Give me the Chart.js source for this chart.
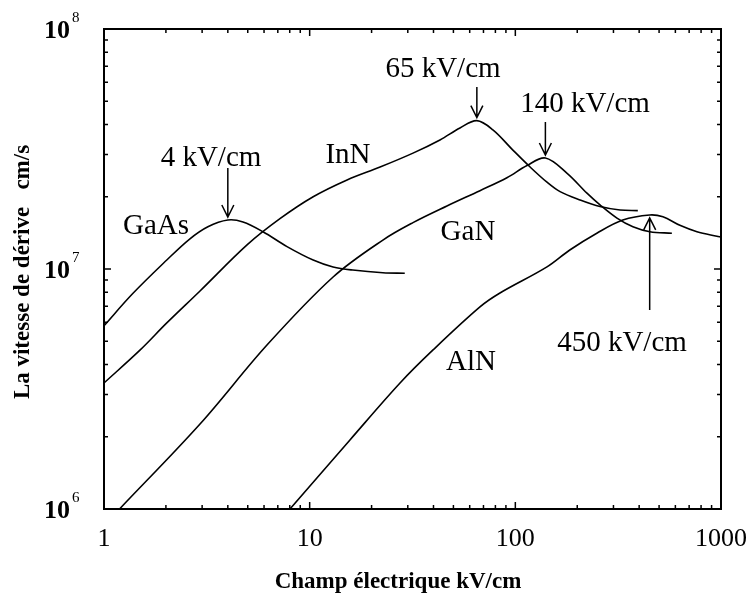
<!DOCTYPE html>
<html>
<head>
<meta charset="utf-8">
<script src="https://cdn.jsdelivr.net/npm/chart.js@4.4.0/dist/chart.umd.min.js"></script>
<style>
  body { margin: 0; background: #fff; }
  canvas { display: block; }
</style>
</head>
<body>
<canvas id="velocityChart" width="752" height="600"></canvas>
<script>
// steady-state drift velocity (cm/s) against electric field (kV/cm)
const gaasField = [1, 1.38, 2.02, 2.6, 3.2, 4, 4.74, 5.93, 7.76, 10.4, 13, 16.2, 22.7, 29];
const gaasVelocity = [5.8e6, 7.9e6, 1.09e7, 1.33e7, 1.5e7, 1.6e7, 1.57e7, 1.43e7, 1.24e7, 1.09e7, 1.02e7, 9.9e6, 9.65e6, 9.6e6];

const innField = [1, 1.5, 2.02, 2.93, 4.96, 7.17, 10.4, 15.2, 22, 31.8, 43, 53.8, 65, 77.8, 97.3, 118, 142.5, 165, 206, 258, 323, 394];
const innVelocity = [3.35e6, 4.6e6, 5.96e6, 8.1e6, 1.26e7, 1.62e7, 2.0e7, 2.35e7, 2.66e7, 3.04e7, 3.45e7, 3.87e7, 4.15e7, 3.8e7, 3.13e7, 2.66e7, 2.3e7, 2.1e7, 1.94e7, 1.82e7, 1.76e7, 1.75e7];

const ganField = [1.19, 2.93, 6.2, 13, 22.7, 31.8, 46.5, 67.3, 91, 114, 140, 178, 223, 258, 312, 373, 451, 577];
const ganVelocity = [1.0e6, 2.26e6, 4.82e6, 9.26e6, 1.32e7, 1.56e7, 1.83e7, 2.12e7, 2.4e7, 2.7e7, 2.9e7, 2.51e7, 2.07e7, 1.85e7, 1.63e7, 1.5e7, 1.43e7, 1.41e7];

const alnField = [8.02, 15.7, 27.5, 39.8, 67.3, 84.2, 142.5, 184, 249, 333, 450, 522, 631, 764, 955, 1000];
const alnVelocity = [1.0e6, 1.94e6, 3.35e6, 4.6e6, 6.95e6, 7.94e6, 1.02e7, 1.2e7, 1.41e7, 1.6e7, 1.68e7, 1.65e7, 1.52e7, 1.43e7, 1.37e7, 1.36e7];

const materials = ['GaAs', 'InN', 'GaN', 'AlN'];
const peakLabels = ['4 kV/cm', '65 kV/cm', '140 kV/cm', '450 kV/cm'];

const xTickValues = [1, 10, 100, 1000];
const xTickLabels = ['1', '10', '100', '1000'];
const yTickExponents = [6, 7, 8];

const fields = [gaasField, innField, ganField, alnField];
const velocities = [gaasVelocity, innVelocity, ganVelocity, alnVelocity];

// label placement (px)
const nameSpots = [[156, 226], [348, 155], [468, 232], [471, 362]];
const peakTextSpots = [[211, 158], [443, 69], [585, 104], [622, 343]];
const arrowTails = [168, 87, 122, 310];

const serif = '"Liberation Serif", "DejaVu Serif", serif';

function toPoints(xs, ys) {
  return xs.map((x, i) => ({ x: x, y: ys[i] }));
}

function drawArrow(ctx, x, y0, y1) {
  const dir = y1 > y0 ? 1 : -1;
  ctx.beginPath();
  ctx.moveTo(x, y0);
  ctx.lineTo(x, y1);
  ctx.moveTo(x - 6, y1 - dir * 12);
  ctx.lineTo(x, y1);
  ctx.lineTo(x + 6, y1 - dir * 12);
  ctx.stroke();
}

const framePlugin = {
  id: 'frame',
  beforeDraw(chart) {
    const ctx = chart.ctx;
    ctx.save();
    ctx.fillStyle = '#fff';
    ctx.fillRect(0, 0, chart.width, chart.height);
    ctx.restore();
  },
  afterDraw(chart) {
    const ctx = chart.ctx;
    const area = chart.chartArea;
    const xs = chart.scales.x;
    const ys = chart.scales.y;
    ctx.save();
    ctx.strokeStyle = '#000';
    ctx.fillStyle = '#000';

    // box
    ctx.lineWidth = 2;
    ctx.strokeRect(area.left, area.top, area.right - area.left, area.bottom - area.top);

    // inward ticks on all four sides
    ctx.lineWidth = 1.5;
    ctx.beginPath();
    for (let d = 0; d < xTickValues.length - 1; d++) {
      for (let m = 1; m <= 9; m++) {
        const px = xs.getPixelForValue(xTickValues[d] * m);
        const len = m === 1 ? 7 : 4;
        ctx.moveTo(px, area.bottom);
        ctx.lineTo(px, area.bottom - len);
        ctx.moveTo(px, area.top);
        ctx.lineTo(px, area.top + len);
      }
    }
    for (let d = 0; d < yTickExponents.length - 1; d++) {
      for (let m = 1; m <= 9; m++) {
        const py = ys.getPixelForValue(m * Math.pow(10, yTickExponents[d]));
        const len = m === 1 ? 7 : 4;
        ctx.moveTo(area.left, py);
        ctx.lineTo(area.left + len, py);
        ctx.moveTo(area.right, py);
        ctx.lineTo(area.right - len, py);
      }
    }
    ctx.stroke();

    // x tick labels
    ctx.font = '26px ' + serif;
    ctx.textAlign = 'center';
    ctx.textBaseline = 'middle';
    xTickValues.forEach((v, i) => {
      ctx.fillText(xTickLabels[i], xs.getPixelForValue(v), area.bottom + 30);
    });

    // y tick labels as powers of ten
    yTickExponents.forEach(e => {
      const py = ys.getPixelForValue(Math.pow(10, e));
      ctx.font = 'bold 26px ' + serif;
      ctx.textAlign = 'right';
      ctx.fillText('10', 70, py + 2);
      ctx.font = '15px ' + serif;
      ctx.textAlign = 'left';
      ctx.fillText(String(e), 72, py - 11);
    });

    // axis titles
    ctx.font = 'bold 23px ' + serif;
    ctx.textAlign = 'center';
    ctx.fillText('Champ électrique kV/cm', 398, 582);
    ctx.save();
    ctx.translate(23, 272);
    ctx.rotate(-Math.PI / 2);
    ctx.fillText('La vitesse de dérive   cm/s', 0, 0);
    ctx.restore();

    // curve names and peak markers
    ctx.font = '29px ' + serif;
    materials.forEach((name, i) => {
      ctx.fillText(name, nameSpots[i][0], nameSpots[i][1]);
    });
    ctx.lineWidth = 1.5;
    velocities.forEach((vel, i) => {
      const k = vel.indexOf(Math.max(...vel));
      const px = xs.getPixelForValue(fields[i][k]);
      const peakY = ys.getPixelForValue(vel[k]);
      const tail = arrowTails[i];
      const tip = tail < peakY ? peakY - 3 : peakY + 3;
      drawArrow(ctx, px, tail, tip);
      ctx.fillText(peakLabels[i], peakTextSpots[i][0], peakTextSpots[i][1]);
    });
    ctx.restore();
  }
};

new Chart(document.getElementById('velocityChart'), {
  type: 'scatter',
  data: {
    datasets: materials.map((name, i) => ({
      label: name,
      data: toPoints(fields[i], velocities[i]),
      showLine: true,
      borderColor: '#000',
      borderWidth: 1.6,
      pointRadius: 0,
      tension: 0.35
    }))
  },
  options: {
    responsive: false,
    animation: false,
    layout: { padding: { left: 104, top: 29, right: 31, bottom: 91 } },
    plugins: { legend: { display: false }, tooltip: { enabled: false } },
    scales: {
      x: { type: 'logarithmic', min: 1, max: 1000, display: false },
      y: { type: 'logarithmic', min: 1e6, max: 1e8, display: false }
    }
  },
  plugins: [framePlugin]
});
</script>
</body>
</html>
